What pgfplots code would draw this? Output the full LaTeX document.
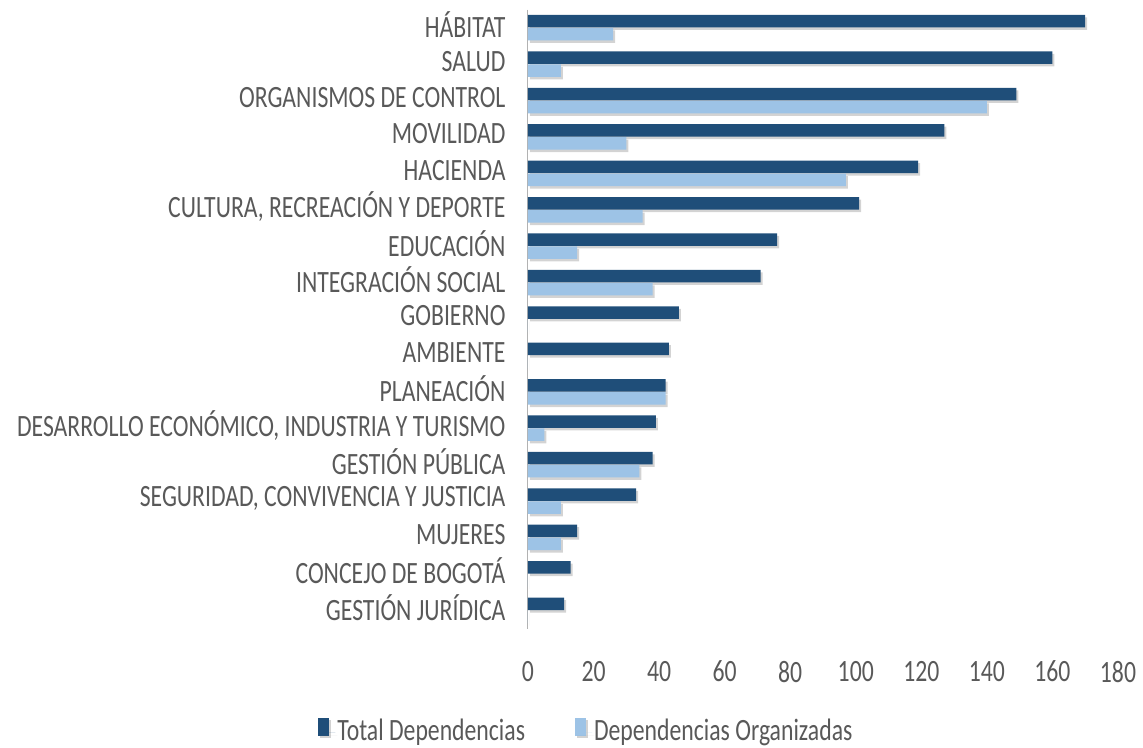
\documentclass[border=0pt]{standalone}
\usepackage{pgfplots}
\pgfplotsset{compat=1.18}
\usepackage{fontspec}
\setmainfont[FakeStretch=0.765]{Carlito}
\usetikzlibrary{shadows,calc}
\definecolor{darkb}{HTML}{1F4E79}
\definecolor{lightb}{HTML}{9DC3E6}
\definecolor{txt}{HTML}{595959}
\begin{document}
\fontsize{31}{35}\selectfont
\begin{tikzpicture}
\begin{axis}[
  name=ax,
  scale only axis,
  width=590pt, height=619pt,
  xmin=0, xmax=180,
  ymin=-0.5, ymax=16.5,
  y dir=reverse,
  xbar,
  bar width=12.5pt,
  axis x line*=bottom,
  axis y line*=left,
  x axis line style={draw=none},
  y axis line style={draw=gray!60, line width=1pt},
  xtick={0,20,...,180},
  ytick={0,...,16},
  yticklabels={HÁBITAT,SALUD,ORGANISMOS DE CONTROL,MOVILIDAD,HACIENDA,{CULTURA, RECREACIÓN Y DEPORTE},EDUCACIÓN,INTEGRACIÓN SOCIAL,GOBIERNO,AMBIENTE,PLANEACIÓN,{DESARROLLO ECONÓMICO, INDUSTRIA Y TURISMO},GESTIÓN PÚBLICA,{SEGURIDAD, CONVIVENCIA Y JUSTICIA},MUJERES,CONCEJO DE BOGOTÁ,GESTIÓN JURÍDICA},
  major tick length=0pt,
  tick label style={font=\fontsize{31}{35}\selectfont, text=txt},
  yticklabel style={xshift=-12pt, yshift=3pt},
  xticklabel style={yshift=-22pt},
  /pgf/number format/assume math mode=true,
  legend style={at={(0.099,-0.168)}, anchor=center, draw=none, legend columns=2,
    font=\fontsize{31}{35}\selectfont, text=txt,
    /tikz/every even column/.append style={column sep=48pt}},
  legend image code/.code={\fill[#1, drop shadow={opacity=0}] (0pt,-3pt) rectangle (11pt,15pt);\path (0pt,0pt) -- (17pt,0pt);},
  clip=false,
]
\addplot[draw=none, fill=darkb, bar shift=6.5pt,
  drop shadow={shadow xshift=2pt, shadow yshift=-2.5pt, opacity=0.35}] coordinates {
(170,0) (160,1) (149,2) (127,3) (119,4) (101,5) (76,6) (71,7) (46,8) (43,9) (42,10) (39,11) (38,12) (33,13) (15,14) (13,15) (11,16)};
\addplot[draw=none, fill=lightb, bar shift=-6.5pt,
  drop shadow={shadow xshift=2pt, shadow yshift=-2.5pt, opacity=0.35}] coordinates {
(26,0) (10,1) (140,2) (30,3) (97,4) (35,5) (15,6) (38,7) (0,8) (0,9) (42,10) (5,11) (34,12) (10,13) (10,14) (0,15) (0,16)};
\legend{Total Dependencias, Dependencias Organizadas}
\end{axis}
\pgfresetboundingbox
\path[use as bounding box] ($(ax.south west)+(-528pt,-119pt)$) rectangle ($(ax.north east)+(25pt,9.5pt)$);
\end{tikzpicture}
\end{document}
